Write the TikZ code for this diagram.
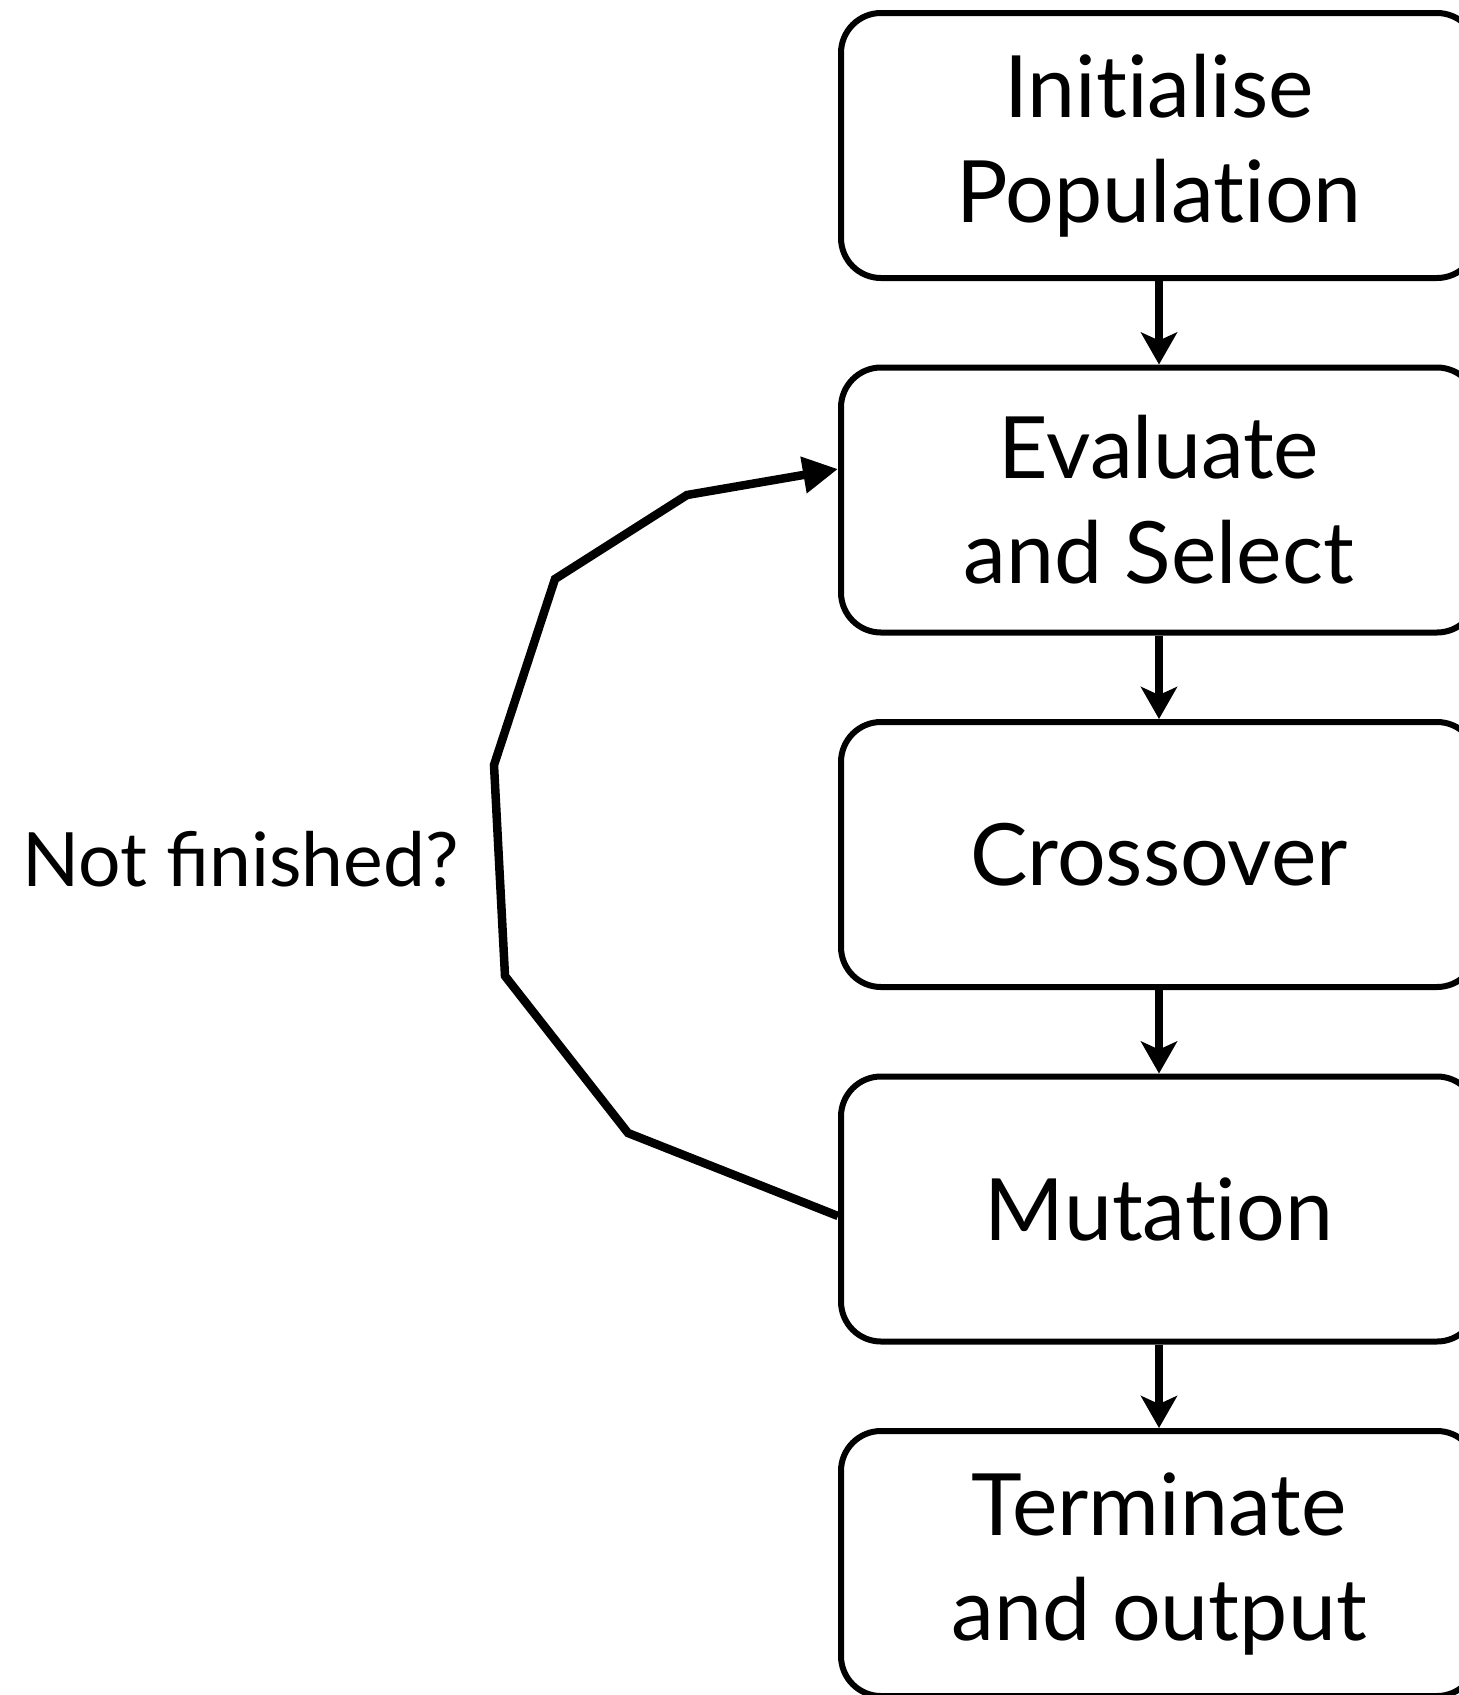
\documentclass[tikz,border=0pt]{standalone}
\usepackage{fontspec}
\setmainfont{Lato}
\usetikzlibrary{arrows.meta}
% keeps "t" and "i" apart (no ti ligature)
\newcommand{\nolig}{\kern0pt{}}
\begin{document}
\begin{tikzpicture}[x=1pt,y=-1pt,
  stage/.style={draw, line width=6pt, rounded corners=40pt, minimum width=636pt,
    minimum height=265pt, align=center, inner sep=0pt,
    font=\fontsize{86}{105}\selectfont},
  flow/.style={line width=8pt, -{Stealth[length=32pt,width=36pt,inset=8pt]}},
  loop/.style={line width=8.5pt, line join=miter, -{Triangle[length=35pt,width=35pt]}}]
\path[use as bounding box, clip] (0,0) rectangle (1459,1695);

% pipeline stages
\node[stage] (init) at (1159,145.5) {Init\nolig ialise\\Populat\nolig ion};
\node[stage] (eval) at (1159,500)   {Evaluate\\and Select};
\node[stage] (cross) at (1159,854.5) {Crossover};
\node[stage] (mut) at (1159,1209)  {Mutat\nolig ion};
\node[stage] (term) at (1159,1563.5) {Terminate\\and output};

\draw[flow] (init) -- (eval);
\draw[flow] (eval) -- (cross);
\draw[flow] (cross) -- (mut);
\draw[flow] (mut) -- (term);

% feedback loop back to evaluation
\coordinate (l1) at (628,1133);
\coordinate (l2) at (505,976);
\coordinate (l3) at (494,765);
\coordinate (l4) at (555,579);
\coordinate (l5) at (687,495);
\draw[loop] ([yshift=-7pt]mut.west) -- (l1) -- (l2) -- (l3) -- (l4) -- (l5) -- ([yshift=31pt]eval.west);

\node[anchor=base, inner sep=0pt, font=\fontsize{75}{90}\selectfont] (nf) at (240.5,886) {Not finished?};
\end{tikzpicture}
\end{document}
